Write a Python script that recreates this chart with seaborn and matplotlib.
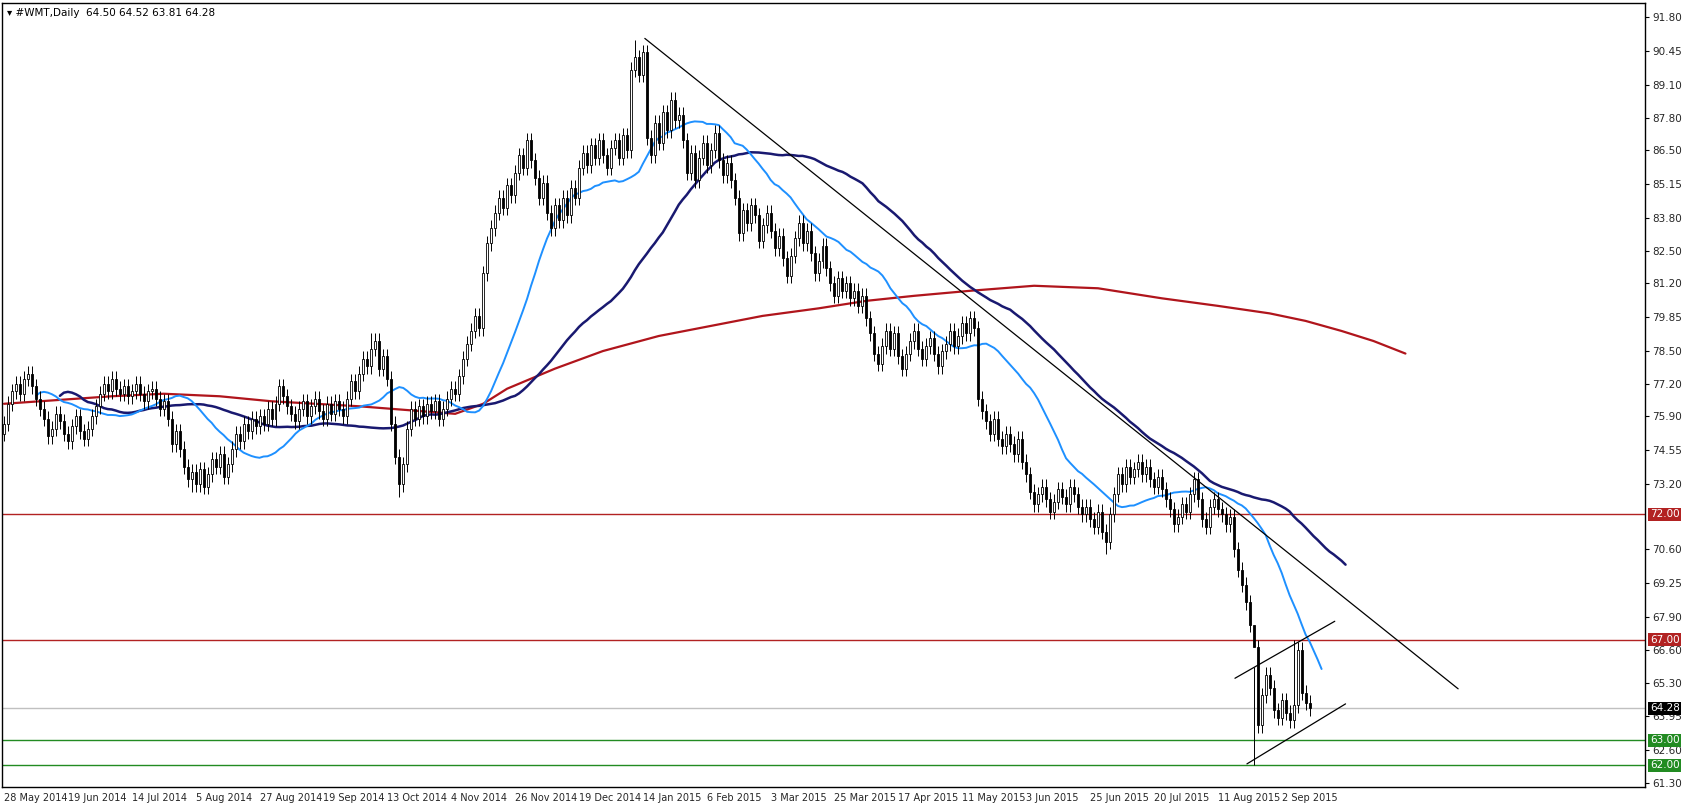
import matplotlib
matplotlib.use("Agg")
import matplotlib.pyplot as plt
import numpy as np
import pandas as pd
import seaborn as sns

# daily closes, 28 May 2014 .. 10 Sep 2015
closes = [
    75.6, 76.4, 76.9, 77.2, 76.8, 77.4, 77.6, 77.1, 76.6,
    76.2, 75.8, 75.1, 75.4, 76.0, 75.7, 75.2, 74.9, 75.5, 75.9, 75.3, 75.0,
    75.4, 75.9, 76.3, 76.8, 77.2, 76.9, 77.4, 77.0, 76.8,
    77.1, 76.7, 76.9, 77.2, 76.8, 76.5, 76.9, 77.0, 76.6, 76.2, 76.5,
    75.8, 74.8, 75.3, 74.6, 73.9, 73.4, 73.7,
    73.2, 73.8, 73.1, 73.6, 74.2, 73.9, 74.4, 73.5,
    74.0, 74.6, 75.2, 74.9, 75.6, 75.3, 75.8,
    75.5, 75.9, 75.6, 76.2, 75.8, 76.4, 77.1, 76.7, 76.3, 76.0,
    75.7, 76.2, 76.5, 75.9, 76.3, 76.6, 76.1, 75.8, 76.4, 76.0, 76.5, 76.2, 75.9,
    76.6, 77.3, 76.9, 77.6, 78.2, 77.9, 78.6, 78.9, 77.8, 78.3, 77.4, 75.6,
    74.3, 73.2, 74.0, 75.4, 76.2, 75.8,
    76.3, 75.9, 76.4, 76.1, 76.5, 75.8, 76.2, 76.6, 77.0, 76.8,
    77.5, 78.2, 78.8, 79.3, 79.9, 79.4,
    81.6, 82.8, 83.4, 84.0, 84.6, 84.2, 85.1, 84.7, 85.6, 86.3, 85.8,
    86.9, 86.1, 85.4, 84.6, 85.2, 84.0, 83.4, 84.3, 83.7, 84.6,
    83.9, 85.0, 84.6, 85.8, 86.4, 85.9, 86.7, 86.2, 86.9, 86.3,
    85.8, 86.6, 86.9, 86.2, 87.1, 86.5, 89.7, 90.2, 89.5, 90.4,
    87.0, 86.3, 87.6, 86.8, 88.0, 87.3, 88.5, 87.7, 87.9, 86.9,
    85.6, 86.4, 85.3, 86.2, 86.8, 85.9, 86.5, 87.2, 86.1, 85.5,
    86.0, 85.3, 84.6, 83.2, 84.1, 83.6, 84.3, 83.9, 82.9, 83.5,
    84.0, 83.3, 82.6, 83.1, 82.2, 81.5, 82.3, 83.0, 83.6, 82.8,
    83.3, 82.4, 81.6, 82.1, 82.7, 81.8, 81.2, 80.7, 81.4, 80.9,
    81.2, 80.6, 80.9, 80.3, 80.7, 79.8, 79.2, 78.4, 78.0, 78.7,
    79.3, 78.6, 79.2, 78.3, 77.8, 78.4, 78.9, 79.3, 78.6, 78.2,
    78.7, 79.0, 78.4, 77.9, 78.5, 78.8, 79.3, 78.7, 79.1, 79.6,
    79.2, 79.8, 79.4, 76.6, 76.1, 75.7, 75.2, 75.8, 75.0, 74.7,
    75.2, 74.8, 74.4, 75.0, 74.1, 73.6, 72.9, 72.4, 72.8, 73.1,
    72.6, 72.1, 72.5, 73.0, 72.7, 72.4, 73.1, 72.8, 72.3, 72.0,
    72.3, 71.8, 71.5, 72.1, 71.3, 70.9, 72.0, 72.8, 73.6, 73.2,
    73.9, 73.5, 73.8, 74.1, 73.6, 73.9, 73.4, 73.1, 73.5, 73.0,
    72.6, 72.2, 71.6, 71.9, 72.4, 72.1, 72.8, 73.4, 72.6, 71.8,
    71.5, 72.3, 72.6, 72.2, 72.0, 71.6, 71.9, 70.6, 69.8, 69.2,
    68.5, 67.6, 66.7, 63.6, 64.8, 65.6, 65.1, 64.2, 63.9, 64.6,
    64.1, 63.8, 64.4, 66.6, 64.9, 64.5, 64.28,
]
first_open = 75.2
special_lows = {47: 72.9, 99: 72.7, 276: 70.4, 313: 62.0}
special_highs = {158: 90.9, 92: 79.2, 313: 65.9, 323: 67.0}

# 200-period MA (red), anchor readings: bar index -> price
ma200_bar = [0, 27, 40, 54, 67, 89, 105, 113, 120, 126, 138, 150, 164, 177, 190, 204, 216,
             228, 242, 258, 274, 290, 304, 317, 326, 335, 343, 351]
ma200_val = [76.4, 76.7, 76.8, 76.7, 76.5, 76.3, 76.1, 76.0, 76.4, 77.0, 77.8, 78.5, 79.1,
             79.5, 79.9, 80.2, 80.5, 80.7, 80.9, 81.1, 81.0, 80.6, 80.3, 80.0, 79.7, 79.3,
             78.9, 78.4]

# trend lines (bar index, price)
trend_down = ([160.5, 364.2], [90.95, 65.05])
chan_upper = ([308.3, 333.3], [65.47, 67.74])
chan_lower = ([311.3, 336.0], [62.06, 64.45])

date_labels = ["28 May 2014", "19 Jun 2014", "14 Jul 2014", "5 Aug 2014", "27 Aug 2014",
               "19 Sep 2014", "13 Oct 2014", "4 Nov 2014", "26 Nov 2014", "19 Dec 2014",
               "14 Jan 2015", "6 Feb 2015", "3 Mar 2015", "25 Mar 2015", "17 Apr 2015",
               "11 May 2015", "3 Jun 2015", "25 Jun 2015", "20 Jul 2015", "11 Aug 2015",
               "2 Sep 2015"]
price_ticks = [91.80, 90.45, 89.10, 87.80, 86.50, 85.15, 83.80, 82.50, 81.20, 79.85, 78.50,
               77.20, 75.90, 74.55, 73.20, 70.60, 69.25, 67.90, 66.60, 65.30, 63.95,
               62.60, 61.30]
levels = [(72.00, "#b22222", "#b22222"), (67.00, "#b22222", "#b22222"),
          (63.00, "#228b22", "#228b22"), (62.00, "#228b22", "#228b22"),
          (64.28, "#c0c0c0", "#000000")]

df = pd.DataFrame({"close": closes})
df["bar"] = np.arange(len(df))
df["open"] = df["close"].shift(1).fillna(first_open)
df["high"] = df[["open", "close"]].max(axis=1) + 0.3
df["low"] = df[["open", "close"]].min(axis=1) - 0.3
for k, v in special_lows.items():
    df.loc[k, "low"] = v
for k, v in special_highs.items():
    df.loc[k, "high"] = v

ma_fast = pd.DataFrame({"bar": df["bar"] + 3, "v": df["close"].rolling(20, min_periods=1).mean()})
ma_slow = pd.DataFrame({"bar": df["bar"] + 9, "v": df["close"].rolling(50, min_periods=1).mean()})
ma_fast.loc[:4, "v"] = np.nan
ma_slow.loc[:4, "v"] = np.nan
ma_red = pd.DataFrame({"bar": ma200_bar, "v": ma200_val})

sns.set_theme(style="white")
fig = plt.figure(figsize=(16.84, 8.05), dpi=100)
ax = fig.add_axes([2 / 1684, 18 / 805, 1643 / 1684, 784 / 805])

for price, col, _ in levels:
    ax.axhline(price, color=col, lw=1, zorder=1)

sns.lineplot(data=ma_red, x="bar", y="v", color="#b0151c", lw=1.6, ax=ax, zorder=2)
sns.lineplot(data=ma_slow, x="bar", y="v", color="#191970", lw=1.8, ax=ax, zorder=2)
sns.lineplot(data=ma_fast, x="bar", y="v", color="#1e90ff", lw=1.4, ax=ax, zorder=2)

ax.vlines(df["bar"], df["low"], df["high"], color="black", lw=0.7, zorder=3)
up = df["close"] >= df["open"]
body = (df["close"] - df["open"]).abs().clip(lower=0.05)
bottom = df[["open", "close"]].min(axis=1)
ax.bar(df["bar"][up], body[up], bottom=bottom[up], width=0.5, color="white",
       edgecolor="black", lw=0.6, zorder=4)
ax.bar(df["bar"][~up], body[~up], bottom=bottom[~up], width=0.5, color="black",
       edgecolor="black", lw=0.6, zorder=4)

for xs, ys in (trend_down, chan_upper, chan_lower):
    ax.plot(xs, ys, color="black", lw=0.9, zorder=5)

ax.set_xlim(-0.5, 411)
ax.set_ylim(61.14, 92.36)
ax.set_xlabel("")
ax.set_ylabel("")
ax.yaxis.tick_right()
ax.set_yticks(price_ticks)
ax.set_yticklabels([f"{p:.2f}" for p in price_ticks], fontsize=7.5)
ax.set_xticks(np.arange(len(date_labels)) * 16)
ax.set_xticklabels(date_labels, fontsize=7, ha="left")
ax.tick_params(axis="both", length=3, width=0.8, pad=2, color="black", direction="out")
ax.tick_params(axis="x", pad=1)
for s in ax.spines.values():
    s.set_color("black")
    s.set_linewidth(1)

for price, col, fc in levels:
    ax.text(1.003, price, f"{price:.2f}", transform=ax.get_yaxis_transform(), fontsize=7.5,
            color="white", va="center", ha="left", zorder=10,
            bbox=dict(boxstyle="square,pad=0.15", fc=fc, ec="none"))

ax.text(0.003, 0.993, "\u25BE #WMT,Daily  64.50 64.52 63.81 64.28", transform=ax.transAxes,
        fontsize=7.5, va="top", ha="left", color="black")

fig.savefig("out.png", dpi=100)
